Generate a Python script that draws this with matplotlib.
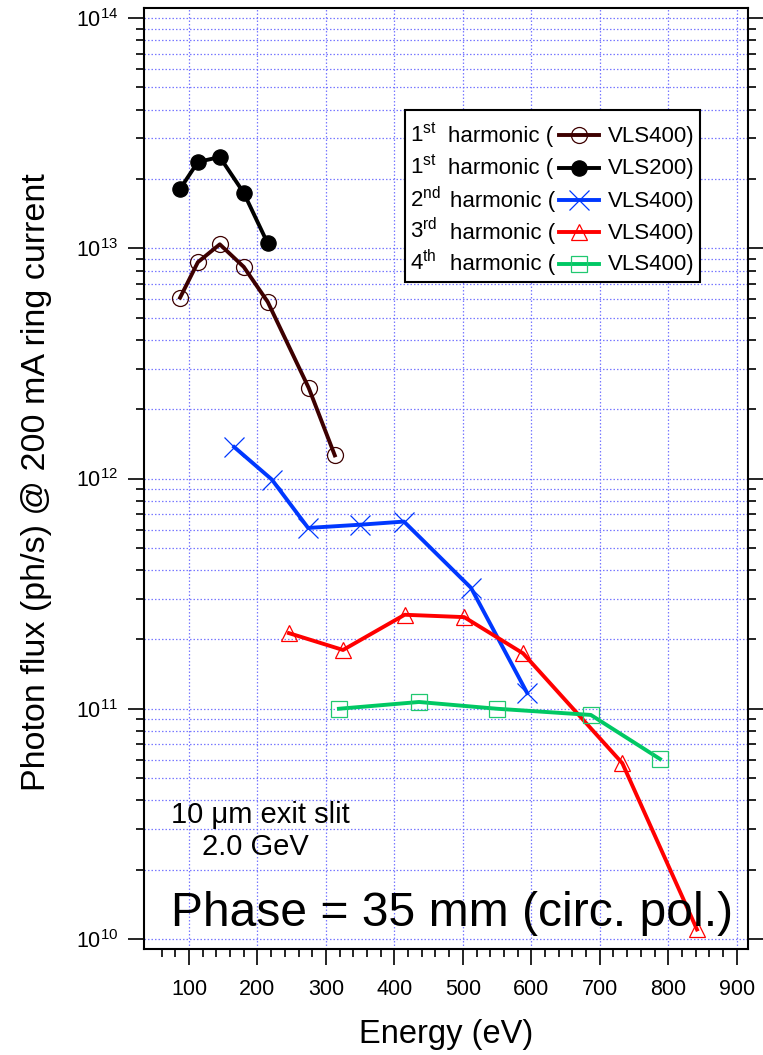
import matplotlib
matplotlib.use("Agg")
import matplotlib.pyplot as plt
import matplotlib.ticker as mticker
from matplotlib.patches import Rectangle
import numpy as np

plt.rcParams['font.family'] = ['Liberation Sans', 'DejaVu Sans']
plt.rcParams['mathtext.fontset'] = 'custom'
plt.rcParams['mathtext.rm'] = 'Liberation Sans'
plt.rcParams['mathtext.it'] = 'Liberation Sans:italic'
plt.rcParams['mathtext.bf'] = 'Liberation Sans:bold'

# dados (energia em eV, fluxo em ph/s)
e_h1_400 = [87, 113, 145, 180, 215, 275, 313]
f_h1_400 = [6.1e12, 8.7e12, 1.04e13, 8.3e12, 5.85e12, 2.47e12, 1.26e12]

e_h1_200 = [87, 113, 145, 180, 215]
f_h1_200 = [1.81e13, 2.37e13, 2.49e13, 1.74e13, 1.05e13]

e_h2_400 = [166, 221, 274, 350, 414, 512, 594]
f_h2_400 = [1.37e12, 9.9e11, 6.1e11, 6.3e11, 6.5e11, 3.35e11, 1.17e11]

e_h3_400 = [246, 325, 415, 502, 588, 733, 842]
f_h3_400 = [2.13e11, 1.80e11, 2.56e11, 2.50e11, 1.74e11, 5.8e10, 1.1e10]

e_h4_400 = [319, 436, 550, 687, 788]
f_h4_400 = [1.0e11, 1.07e11, 1.0e11, 9.4e10, 6.05e10]

ordinais = ['1', '1', '2', '3', '4']
sufixos = ['st', 'st', 'nd', 'rd', 'th']
gratings = ['VLS400', 'VLS200', 'VLS400', 'VLS400', 'VLS400']

estilos = [
    dict(color='#3d0000', marker='o', ms=11.5, mfc='none', mec='#3d0000', mew=0.9),
    dict(color='black', marker='o', ms=11, mfc='black', mec='black', mew=0.9),
    dict(color='#0038ff', marker='x', ms=14, mew=0.9),
    dict(color='#ff0000', marker='^', ms=11, mfc='none', mec='#ff0000', mew=0.9),
    dict(color='#00c864', marker='s', ms=11, mfc='none', mec='#20c870', mew=0.9),
]
series = [(e_h1_400, f_h1_400), (e_h1_200, f_h1_200), (e_h2_400, f_h2_400),
          (e_h3_400, f_h3_400), (e_h4_400, f_h4_400)]

fig = plt.figure(figsize=(7.63, 10.55), dpi=100)
ax = fig.add_axes([144 / 763, 1 - 949 / 1055, 603.5 / 763, 941 / 1055])

ax.set_yscale('log')
ax.set_ylim(10 ** 9.9566, 10 ** 14.0434)
ax.set_xlim(34.3, 915.8)

for (xs, ys), st in zip(series, estilos):
    ax.plot(xs, ys, lw=2.8, zorder=3, **st)

# eixos e ticks
ax.xaxis.set_major_locator(mticker.MultipleLocator(100))
ax.xaxis.set_minor_locator(mticker.FixedLocator(np.arange(60, 900, 20)))
ax.yaxis.set_major_locator(mticker.LogLocator(base=10, numticks=10))
ax.yaxis.set_minor_locator(mticker.LogLocator(base=10, subs=np.arange(2, 10), numticks=20))
ax.yaxis.set_minor_formatter(mticker.NullFormatter())

ax.tick_params(which='both', direction='out', top=False, left=True, right=True,
               width=1.2, labelsize=15.5)
ax.tick_params(which='major', length=11.5)
ax.tick_params(which='minor', length=5.8)
ax.tick_params(axis='x', which='major', pad=10)
ax.tick_params(axis='y', which='major', pad=7)
for sp in ax.spines.values():
    sp.set_linewidth(1.5)

grade = dict(color='#6a6aff', linestyle=(0, (1.2, 1.6)), linewidth=0.9, alpha=0.9)
ax.grid(True, axis='y', which='both', **grade)
ax.grid(True, axis='x', which='major', **grade)

fig.text(446 / 763, 1 - 1043 / 1055, 'Energy (eV)', ha='center', va='baseline', fontsize=23.5)
fig.text(37 / 763, 1 - 482 / 1055, 'Photon flux (ph/s) @ 200 mA ring current',
         ha='center', va='center', rotation=90, fontsize=24.5)

# textos dentro do gráfico
def fx(px):
    return (px - 144) / 603.5

def fy(py):
    return (949 - py) / 941

ax.text(fx(260), fy(823), '10 \u03bcm exit slit', transform=ax.transAxes,
        ha='center', va='baseline', fontsize=21)
ax.text(fx(255), fy(855), '2.0 GeV', transform=ax.transAxes,
        ha='center', va='baseline', fontsize=21)
ax.text(fx(452), fy(926), 'Phase = 35 mm (circ. pol.)', transform=ax.transAxes,
        ha='center', va='baseline', fontsize=34.6)

# legenda no estilo Igor
ax.add_patch(Rectangle((fx(405), fy(282)), fx(700) - fx(405), fy(110) - fy(282),
                       transform=ax.transAxes, facecolor='white', edgecolor='black',
                       lw=1.5, zorder=5))
bases = [141.7, 174, 206.7, 238.5, 270]
for i, (n, suf, g, st) in enumerate(zip(ordinais, sufixos, gratings, estilos)):
    b = bases[i]
    ax.text(fx(410), fy(b), n + r'$^{\mathrm{' + suf + '}}$', transform=ax.transAxes,
            ha='left', va='baseline', fontsize=16, zorder=6)
    ax.text(fx(448 if i < 2 else 450), fy(b), 'harmonic (', transform=ax.transAxes,
            ha='left', va='baseline', fontsize=16, zorder=6)
    yl = fy(b - 6.5)
    ax.plot([fx(559), fx(599)], [yl, yl], transform=ax.transAxes, lw=2.8,
            color=st['color'], zorder=6, clip_on=False)
    extra = {k: v for k, v in st.items() if k != 'color'}
    ax.plot([fx(579)], [yl], transform=ax.transAxes, color=st['color'],
            linestyle='none', zorder=7, clip_on=False, **extra)
    ax.text(fx(608), fy(b), g + ')', transform=ax.transAxes,
            ha='left', va='baseline', fontsize=16, zorder=6)

fig.savefig('out.png', dpi=100)
